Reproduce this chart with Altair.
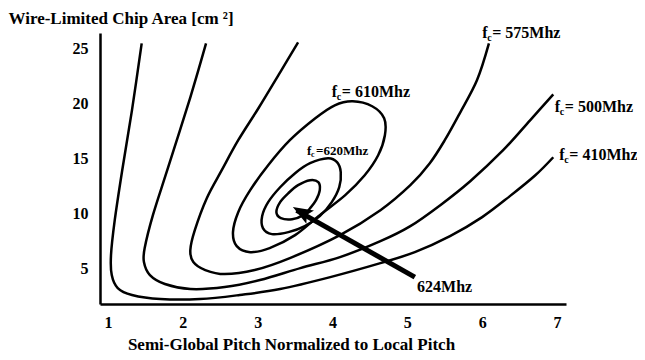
import altair as alt
import pandas as pd

# ---- contour curves (data units) ----
x410 = [1.45, 1.32, 1.19, 1.09, 1.04, 1.05, 1.13, 1.32, 1.70, 2.23, 2.76, 3.30, 3.97, 4.64, 5.10, 5.57, 6.00, 6.37, 6.71, 6.95]
y410 = [25.45, 19.36, 13.91, 9.36, 6.18, 4.36, 3.18, 2.55, 2.18, 2.18, 2.55, 3.09, 4.18, 5.45, 6.45, 7.91, 9.64, 11.55, 13.45, 15.09]

x500 = [2.31, 2.10, 1.80, 1.60, 1.49, 1.48, 1.56, 1.76, 2.10, 2.56, 3.03, 3.57, 4.10, 4.64, 5.04, 5.44, 5.84, 6.28, 6.64, 6.95]
y500 = [25.45, 20.55, 14.09, 9.82, 6.82, 5.55, 4.36, 3.55, 3.09, 3.27, 3.91, 5.00, 6.00, 7.45, 8.82, 10.73, 12.91, 15.73, 18.45, 20.82]

x575 = [3.54, 3.30, 3.01, 2.74, 2.52, 2.32, 2.16, 2.10, 2.14, 2.30, 2.56, 2.96, 3.43, 4.10, 4.64, 5.04, 5.30, 5.50, 5.70, 5.93, 6.09]
y575 = [25.55, 22.82, 19.55, 16.64, 13.91, 11.36, 8.45, 6.64, 5.55, 4.82, 4.45, 4.82, 5.91, 8.00, 10.27, 12.55, 14.55, 16.64, 19.09, 22.09, 25.45]

x610 = [4.27, 4.53, 4.69, 4.70, 4.61, 4.43, 4.17, 3.83, 3.50, 3.16, 2.90, 2.72, 2.67, 2.74, 2.90, 3.14, 3.43, 3.77, 4.03]
y610 = [20.18, 19.73, 18.64, 17.09, 15.27, 13.45, 11.64, 9.82, 8.00, 6.82, 6.45, 7.00, 8.27, 10.09, 12.09, 14.36, 16.64, 18.64, 19.82]

x620 = [3.94, 4.06, 4.11, 4.09, 3.99, 3.83, 3.63, 3.41, 3.19, 3.07, 3.06, 3.14, 3.30, 3.50, 3.70]
y620 = [15.00, 14.64, 13.73, 12.36, 11.00, 9.73, 8.82, 8.27, 8.09, 8.64, 9.73, 11.00, 12.36, 13.64, 14.55]

x624 = [3.70, 3.81, 3.83, 3.78, 3.70, 3.61, 3.46, 3.31, 3.25, 3.30, 3.41, 3.54]
y624 = [13.00, 12.82, 12.09, 11.18, 10.45, 9.82, 9.45, 9.55, 10.09, 11.00, 11.82, 12.55]

open_names = ["410", "500", "575"]
loop_names = ["610", "620", "624"]

# arrow (tail -> tip)
arrow_x = [5.10, 3.52]
arrow_y = [4.18, 10.25]
tip_x = [3.47]
tip_y = [10.55]

# labels
big_lab_x = [6.00, 3.99, 6.97, 7.03]
big_lab_y = [26.36, 21.0, 19.64, 15.27]
big_lab_rest = ["= 575Mhz", "= 610Mhz", "= 500Mhz", "= 410Mhz"]
small_lab_x = [3.66]
small_lab_y = [15.64]
small_lab_rest = ["=620Mhz"]
peak_lab_x = [5.13]
peak_lab_y = [3.27]
peak_lab = ["624Mhz"]

x_ticks = [1, 2, 3, 4, 5, 6, 7]
y_ticks = [5, 10, 15, 20, 25]

FONT = "Liberation Serif"


def build(names, xs_list, ys_list):
    rows = []
    for n, xs, ys in zip(names, xs_list, ys_list):
        for i, (a, b) in enumerate(zip(xs, ys)):
            rows.append({"curve": n, "i": i, "x": a, "y": b})
    return pd.DataFrame(rows)


df_open = build(open_names, [x410, x500, x575], [y410, y500, y575])
df_loop = build(loop_names, [x610, x620, x624], [y610, y620, y624])

xscale = alt.Scale(domain=[0.893, 7.12], nice=False, zero=False)
yscale = alt.Scale(domain=[1.73, 26.4], nice=False, zero=False)

X = alt.X("x:Q", scale=xscale,
          axis=alt.Axis(values=x_ticks, format="d", grid=False, ticks=False,
                        domainColor="black", domainWidth=2.5,
                        labelFont=FONT, labelFontWeight="bold", labelFontSize=16,
                        labelColor="black", labelPadding=10,
                        titleFont=FONT, titleFontWeight="bold", titleFontSize=17,
                        titleColor="black", titleX=191, titleY=40,
                        titleAlign="center", titleBaseline="middle"),
          title="Semi-Global Pitch Normalized to Local Pitch")
Y = alt.Y("y:Q", scale=yscale,
          axis=alt.Axis(values=y_ticks, format="d", grid=False, ticks=False,
                        domainColor="black", domainWidth=2.5,
                        labelFont=FONT, labelFontWeight="bold", labelFontSize=16,
                        labelColor="black", labelPadding=12,
                        titleFont=FONT, titleFontWeight="bold", titleFontSize=17,
                        titleColor="black", titleAngle=0, titleX=-92, titleY=-15,
                        titleAlign="left", titleBaseline="middle"),
          title="Wire-Limited Chip Area [cm \u00b2]")

open_lines = alt.Chart(df_open).mark_line(
    color="black", strokeWidth=2.5, interpolate="cardinal"
).encode(x=X, y=Y, detail="curve:N", order="i:Q")

loop_lines = alt.Chart(df_loop).mark_line(
    color="black", strokeWidth=2.5, interpolate="cardinal-closed"
).encode(x=X, y=Y, detail="curve:N", order="i:Q")

arrow_df = pd.DataFrame({"x": arrow_x, "y": arrow_y, "i": [0, 1]})
arrow = alt.Chart(arrow_df).mark_line(color="black", strokeWidth=5).encode(
    x=X, y=Y, order="i:Q")

tip_df = pd.DataFrame({"x": tip_x, "y": tip_y})
tip = alt.Chart(tip_df).mark_point(
    shape="M0,0 L-0.38,1 L0,0.8 L0.38,1 Z", filled=True, color="black",
    size=1600, angle=300, opacity=1
).encode(x=X, y=Y)

big_df = pd.DataFrame({"x": big_lab_x, "y": big_lab_y, "rest": big_lab_rest, "f": "f", "c": "c"})
small_df = pd.DataFrame({"x": small_lab_x, "y": small_lab_y, "rest": small_lab_rest, "f": "f", "c": "c"})
peak_df = pd.DataFrame({"x": peak_lab_x, "y": peak_lab_y, "t": peak_lab})


def txt(df, field, size, dx=0, dy=0):
    return alt.Chart(df).mark_text(
        font=FONT, fontWeight="bold", fontSize=size, color="black",
        align="left", baseline="middle", dx=dx, dy=dy
    ).encode(x=X, y=Y, text=f"{field}:N")


layers = [
    open_lines, loop_lines, arrow, tip,
    txt(big_df, "f", 16), txt(big_df, "c", 10, dx=5, dy=5), txt(big_df, "rest", 16, dx=10),
    txt(small_df, "f", 13), txt(small_df, "c", 8, dx=4, dy=4), txt(small_df, "rest", 13, dx=9),
    txt(peak_df, "t", 16),
]

chart = alt.layer(*layers).properties(
    width=466, height=271,
    autosize=alt.AutoSizeParams(type="none"),
    padding={"left": 92, "top": 25, "right": 71, "bottom": 48},
    background="white",
).configure_view(stroke=None)

chart.save("out.html", embed_options={"renderer": "svg", "actions": False})
